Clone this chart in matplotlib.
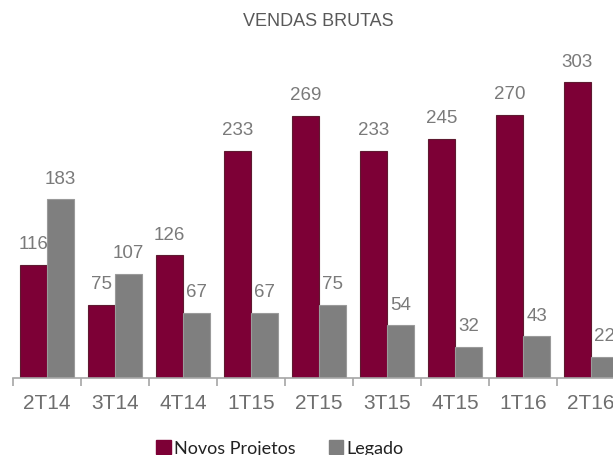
import matplotlib
matplotlib.use("Agg")
import matplotlib.pyplot as plt
from matplotlib.patches import Patch
import numpy as np

categories = ["2T14", "3T14", "4T14", "1T15", "2T15", "3T15", "4T15", "1T16", "2T16"]
novos = [116, 75, 126, 233, 269, 233, 245, 270, 303]
legado = [183, 107, 67, 67, 75, 54, 32, 43, 22]
series_names = ["Novos Projetos", "Legado"]
title = "VENDAS BRUTAS"

W, H = 613, 456
fig = plt.figure(figsize=(W / 100, H / 100), dpi=100)
fig.patch.set_facecolor("white")

maroon = "#7d0036"
gray = "#7f7f7f"
txt = "#7a7a7a"

left_px, right_px, base_px = 13, 625, 379
ymax = 350
top_px = base_px - ymax * 0.9756
ax = fig.add_axes([left_px / W, 1 - base_px / H, (right_px - left_px) / W, (base_px - top_px) / H])
ax.set_xlim(-0.5, len(categories) - 0.5)
ax.set_ylim(0, ymax)
ax.patch.set_alpha(0)

x = np.arange(len(categories))
w = 0.4
b1 = ax.bar(x - w / 2, novos, w, color=maroon, edgecolor="#5e1a30", linewidth=0.8, zorder=1)
b2 = ax.bar(x + w / 2, legado, w, color=gray, edgecolor="#9a9a9a", linewidth=0.8, zorder=2.5)

for xi, v in zip(x, novos):
    ax.annotate(str(v), (xi - w / 2, v), xytext=(0, 9), textcoords="offset points",
                ha="center", va="bottom", fontsize=13.5, color=txt,
                family=["Liberation Sans", "DejaVu Sans"], zorder=2, annotation_clip=False)
for xi, v in zip(x, legado):
    ax.annotate(str(v), (xi + w / 2, v), xytext=(0, 9), textcoords="offset points",
                ha="center", va="bottom", fontsize=13.5, color=txt,
                family=["Liberation Sans", "DejaVu Sans"], zorder=3, annotation_clip=False)

for s in ["top", "right", "left"]:
    ax.spines[s].set_visible(False)
ax.spines["bottom"].set_color("#a6a6a6")
ax.spines["bottom"].set_linewidth(1.2)
ax.set_yticks([])
ax.set_xticks(np.arange(len(categories) + 1) - 0.5)
ax.set_xticklabels([])
ax.tick_params(axis="x", which="major", length=6, width=1.2, color="#a6a6a6", direction="out")
ax.set_xticks(x, minor=True)
ax.set_xticklabels(categories, minor=True, fontsize=15, color="#6e6e6e",
                   family=["Liberation Sans", "DejaVu Sans"])
ax.tick_params(axis="x", which="minor", length=0, pad=11)

fig.text(318 / W, 1 - 21 / H, title, ha="center", va="center", fontsize=13,
         color="#595959", family=["Liberation Sans Narrow", "Liberation Sans", "DejaVu Sans"])

handles = [Patch(facecolor=maroon, edgecolor=maroon), Patch(facecolor=gray, edgecolor=gray)]
fig.legend(handles, series_names, loc="center", bbox_to_anchor=(280 / W, 1 - 449 / H),
           ncol=2, frameon=False, fontsize=13, handlelength=0.8, handleheight=0.8,
           handletextpad=0.2, columnspacing=1.8, labelcolor="#222222",
           prop={"family": ["Lato", "DejaVu Sans"], "size": 13})

fig.savefig("out.png", dpi=100, facecolor="white")
